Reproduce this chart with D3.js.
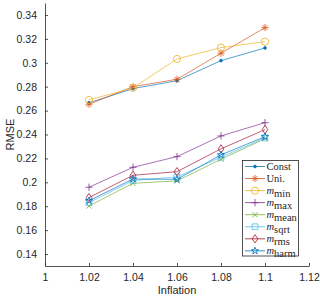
<!DOCTYPE html>
<html><head><meta charset="utf-8">
<script src="https://cdn.jsdelivr.net/npm/d3@7"></script>
<style>body{margin:0;background:#fff}svg{display:block}</style>
</head><body>
<svg id="c" width="320" height="299"></svg>
<script>
const inflation = [1.02, 1.04, 1.06, 1.08, 1.10];
const seriesNames = ["Const", "Uni.", "min", "max", "mean", "sqrt", "rms", "harm"];
const constVals = [0.2665, 0.2784, 0.2850, 0.3018, 0.3124];
const uniVals   = [0.2653, 0.2800, 0.2862, 0.3080, 0.3294];
const minVals   = [0.2689, 0.2790, 0.3032, 0.3127, 0.3177];
const maxVals   = [0.1959, 0.2126, 0.2215, 0.2388, 0.2499];
const meanVals  = [0.1802, 0.1992, 0.2012, 0.2193, 0.2365];
const sqrtVals  = [0.1830, 0.2015, 0.2045, 0.2210, 0.2372];
const rmsVals   = [0.1872, 0.2059, 0.2089, 0.2280, 0.2441];
const harmVals  = [0.1846, 0.2028, 0.2025, 0.2230, 0.2382];
const xTicks = [1, 1.02, 1.04, 1.06, 1.08, 1.1, 1.12];
const yTicks = [0.14, 0.16, 0.18, 0.2, 0.22, 0.24, 0.26, 0.28, 0.3, 0.32, 0.34];

const colors = ["#0072BD", "#D95319", "#EDB120", "#7E2F8E", "#77AC30", "#4DBEEE", "#A2142F", "#0072BD"];
const markers = ["dot", "asterisk", "circle", "plus", "x", "square", "diamond", "star"];
const allVals = [constVals, uniVals, minVals, maxVals, meanVals, sqrtVals, rmsVals, harmVals];

const svg = d3.select("#c");
const x = d3.scaleLinear().domain([1, 1.12]).range([45, 309]);
const y = d3.scaleLinear().domain([0.13, 0.35]).range([266, 3]);

const axisColor = "#262626";
const fontSans = "'Liberation Sans', Arial, Helvetica, sans-serif";

// axes
const gx = svg.append("g").attr("transform", "translate(0,266)")
  .call(d3.axisBottom(x).tickValues(xTicks).tickFormat(d => d3.format("")(+d.toFixed(2))).tickSizeInner(-3).tickSizeOuter(0).tickPadding(8));
const gy = svg.append("g").attr("transform", "translate(45,0)")
  .call(d3.axisLeft(y).tickValues(yTicks).tickFormat(d => String(+d.toFixed(2))).tickSizeInner(-3).tickSizeOuter(0).tickPadding(8));
[gx, gy].forEach(g => {
  g.select(".domain").attr("stroke", axisColor).attr("stroke-width", 0.8);
  g.selectAll(".tick line").attr("stroke", axisColor).attr("stroke-width", 0.8);
  g.selectAll(".tick text").attr("fill", axisColor).attr("font-family", fontSans).attr("font-size", 10.5);
});

svg.append("text").attr("x", 177).attr("y", 294).attr("text-anchor", "middle")
  .attr("font-family", fontSans).attr("font-size", 11).attr("fill", axisColor).text("Inflation");
svg.append("text").attr("transform", "translate(14,134.5) rotate(-90)").attr("text-anchor", "middle")
  .attr("font-family", fontSans).attr("font-size", 11).attr("fill", axisColor).text("RMSE");

function markerPath(type, s) {
  const r = s;
  switch (type) {
    case "dot": return d3.symbol(d3.symbolCircle, 6)();
    case "asterisk": {
      const d = r * 0.72;
      return `M${-r},0L${r},0M0,${-r}L0,${r}M${-d},${-d}L${d},${d}M${-d},${d}L${d},${-d}`;
    }
    case "circle": return d3.symbol(d3.symbolCircle, Math.PI * r * r)();
    case "plus": return `M${-r},0L${r},0M0,${-r}L0,${r}`;
    case "x": { const d = r * 0.75; return `M${-d},${-d}L${d},${d}M${-d},${d}L${d},${-d}`; }
    case "square": { const d = r * 0.8; return `M${-d},${-d}H${d}V${d}H${-d}Z`; }
    case "diamond": return `M0,${-r * 1.15}L${r * 0.8},0L0,${r * 1.15}L${-r * 0.8},0Z`;
    case "star": {
      const pts = [];
      for (let i = 0; i < 10; i++) {
        const rr = i % 2 === 0 ? r * 1.05 : r * 0.42;
        const a = -Math.PI / 2 + i * Math.PI / 5;
        pts.push([rr * Math.cos(a), rr * Math.sin(a)]);
      }
      return "M" + pts.map(p => p[0].toFixed(2) + "," + p[1].toFixed(2)).join("L") + "Z";
    }
  }
}

const line = d3.line().x((d, i) => x(inflation[i])).y(d => y(d));
allVals.forEach((vals, k) => {
  const g = svg.append("g");
  g.append("path").attr("d", line(vals)).attr("fill", "none")
    .attr("stroke", colors[k]).attr("stroke-width", 0.8).attr("stroke-opacity", 0.85);
  g.selectAll("path.m").data(vals).enter().append("path").attr("class", "m")
    .attr("transform", (d, i) => `translate(${x(inflation[i])},${y(d)})`)
    .attr("d", markerPath(markers[k], 3.6))
    .attr("fill", markers[k] === "dot" ? colors[k] : "none")
    .attr("stroke", colors[k]).attr("stroke-width", 0.8);
});

// legend
const lg = svg.append("g");
lg.append("rect").attr("x", 242.5).attr("y", 160.5).attr("width", 56).attr("height", 95.5)
  .attr("fill", "#fff").attr("stroke", "#262626").attr("stroke-width", 0.8);
const fontSerif = "'Liberation Serif', 'Times New Roman', serif";
seriesNames.forEach((name, k) => {
  const yy = 166.5 + k * 12.05;
  lg.append("line").attr("x1", 245).attr("x2", 265).attr("y1", yy).attr("y2", yy)
    .attr("stroke", colors[k]).attr("stroke-width", 0.8);
  lg.append("path").attr("transform", `translate(255,${yy})`).attr("d", markerPath(markers[k], 3.6))
    .attr("fill", markers[k] === "dot" ? colors[k] : "none").attr("stroke", colors[k]).attr("stroke-width", 0.8);
  const t = lg.append("text").attr("x", 266.5).attr("y", yy + 3.5).attr("font-family", fontSerif)
    .attr("font-size", 10.5).attr("fill", "#262626");
  if (k < 2) t.text(name);
  else {
    t.append("tspan").attr("font-style", "italic").text("m");
    t.append("tspan").attr("dy", 2.5).attr("font-size", 10.5).text(name);
  }
});
</script>
</body></html>
